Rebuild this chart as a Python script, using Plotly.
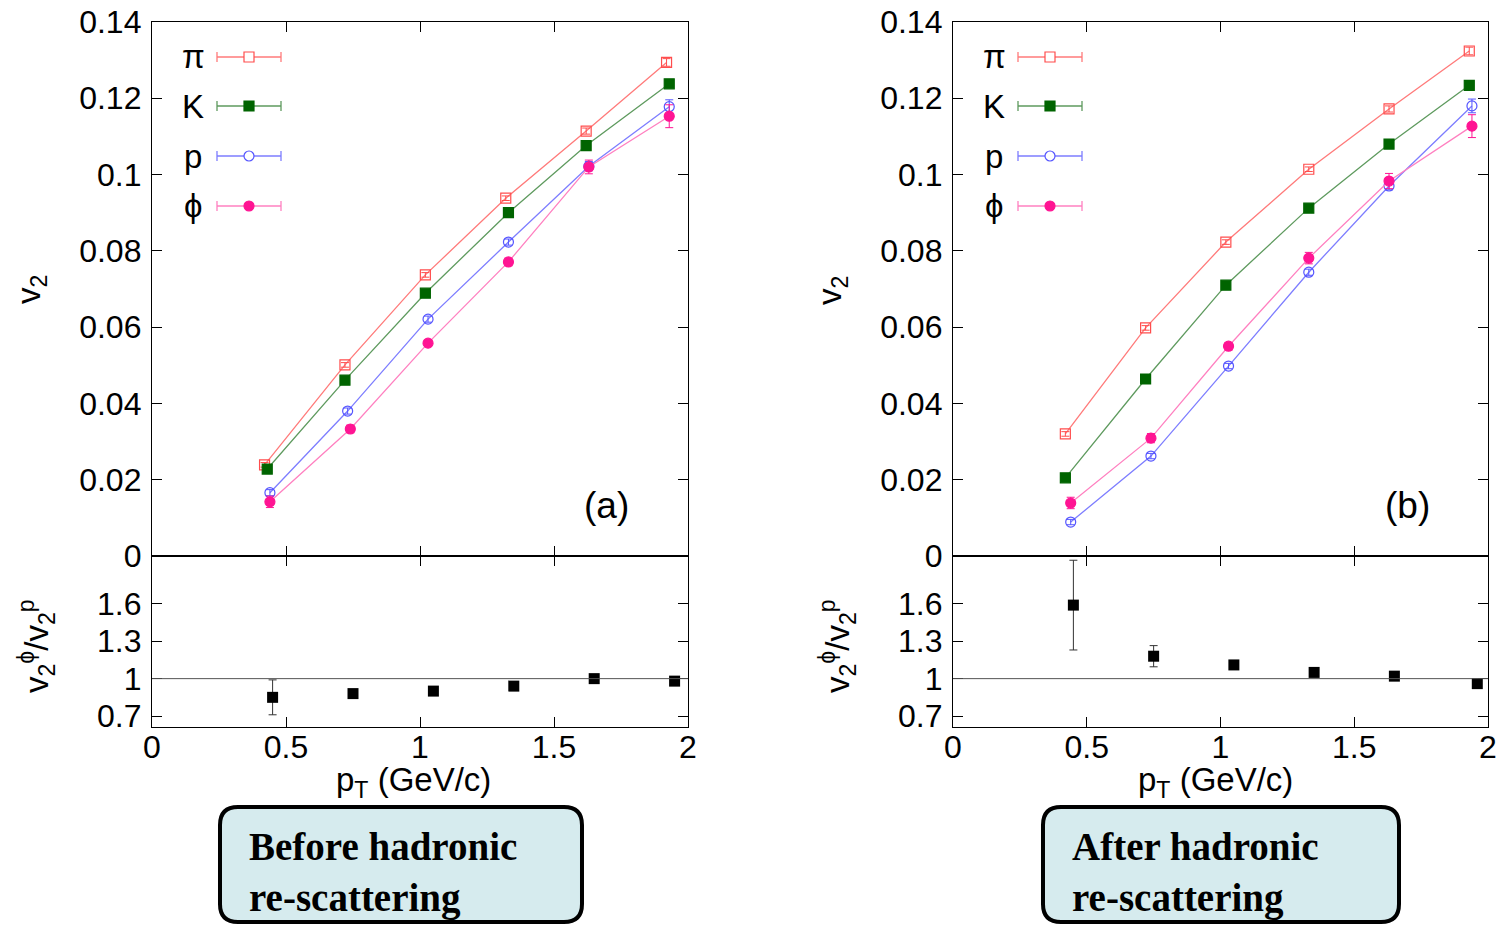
import plotly.graph_objects as go

# ---------------- data ----------------
# Panel (a): before hadronic re-scattering
pt_pi_a = [0.42, 0.72, 1.02, 1.32, 1.62, 1.92]
pt_k_a = [0.43, 0.72, 1.02, 1.33, 1.62, 1.93]
pt_p_a = [0.44, 0.73, 1.03, 1.33, 1.63, 1.93]
pt_phi_a = [0.44, 0.74, 1.03, 1.33, 1.63, 1.93]
v2_pi_a = [0.0239, 0.0501, 0.0737, 0.0938, 0.1114, 0.1294]
v2_k_a = [0.0228, 0.0461, 0.0689, 0.0900, 0.1076, 0.1238]
v2_p_a = [0.0166, 0.0380, 0.0621, 0.0823, 0.1022, 0.1178]
v2_phi_a = [0.0142, 0.0333, 0.0558, 0.0771, 0.1020, 0.1153]
err_pi_a = [0.0006, 0.0006, 0.0006, 0.0006, 0.0008, 0.0010]
err_k_a = [0.0005, 0.0005, 0.0005, 0.0005, 0.0007, 0.0010]
err_p_a = [0.0008, 0.0008, 0.0008, 0.0008, 0.0012, 0.0018]
err_phi_a = [0.0015, 0.0010, 0.0008, 0.0010, 0.0018, 0.0030]

pt_ratio_a = [0.45, 0.75, 1.05, 1.35, 1.65, 1.95]
ratio_a = [0.85, 0.88, 0.90, 0.94, 1.00, 0.98]
ratio_err_a = [0.14, 0.03, 0.01, 0.01, 0.01, 0.01]

# Panel (b): after hadronic re-scattering
pt_pi_b = [0.42, 0.72, 1.02, 1.33, 1.63, 1.93]
pt_k_b = [0.42, 0.72, 1.02, 1.33, 1.63, 1.93]
pt_p_b = [0.44, 0.74, 1.03, 1.33, 1.63, 1.94]
pt_phi_b = [0.44, 0.74, 1.03, 1.33, 1.63, 1.94]
v2_pi_b = [0.0320, 0.0598, 0.0823, 0.1014, 0.1172, 0.1324]
v2_k_b = [0.0205, 0.0464, 0.0710, 0.0912, 0.1080, 0.1234]
v2_p_b = [0.0089, 0.0262, 0.0498, 0.0744, 0.0970, 0.1180]
v2_phi_b = [0.0139, 0.0309, 0.0550, 0.0781, 0.0983, 0.1127]
err_pi_b = [0.0006, 0.0006, 0.0006, 0.0006, 0.0008, 0.0010]
err_k_b = [0.0005, 0.0005, 0.0005, 0.0005, 0.0007, 0.0010]
err_p_b = [0.0007, 0.0007, 0.0007, 0.0008, 0.0010, 0.0018]
err_phi_b = [0.0015, 0.0012, 0.0010, 0.0015, 0.0020, 0.0030]

pt_ratio_b = [0.45, 0.75, 1.05, 1.35, 1.65, 1.96]
ratio_b = [1.59, 1.18, 1.11, 1.05, 1.02, 0.96]
ratio_err_b = [0.36, 0.085, 0.02, 0.01, 0.01, 0.01]

species = ["π", "K", "p", "ϕ"]
v2_ticks = [0, 0.02, 0.04, 0.06, 0.08, 0.1, 0.12, 0.14]
v2_ticktext = ["0", "0.02", "0.04", "0.06", "0.08", "0.1", "0.12", "0.14"]
ratio_ticks = [0.7, 1.0, 1.3, 1.6]
ratio_ticktext = ["0.7", "1", "1.3", "1.6"]
pt_ticks = [0, 0.5, 1, 1.5, 2]
pt_ticktext = ["0", "0.5", "1", "1.5", "2"]
ratio_ref = 1.0
panel_labels = ["(a)", "(b)"]
box_texts = ["Before hadronic<br>re-scattering", "After hadronic<br>re-scattering"]

# ---------------- styles ----------------
W, H = 1506, 926
FONT = "Liberation Sans, Arial, sans-serif"
styles = {
    "π": dict(line="#ff7a7a", marker="#ff4d4d", symbol="square-open"),
    "K": dict(line="#5e9a5e", marker="#006400", symbol="square"),
    "p": dict(line="#7d7dff", marker="#5555ff", symbol="circle-open"),
    "ϕ": dict(line="#ff80c0", marker="#ff1493", symbol="circle"),
}

def px(x):
    return x / W

def py(y):
    return 1 - y / H

dom_a = [px(152), px(688)]
dom_b = [px(953), px(1488)]
dom_top = [py(556), py(22)]
dom_bot = [py(727), py(556)]

fig = go.Figure()

def add_species(xs, ys, es, name, xa, ya):
    st = styles[name]
    fig.add_trace(go.Scatter(
        x=xs, y=ys, mode="lines", xaxis=xa, yaxis=ya,
        line=dict(color=st["line"], width=1.3), showlegend=False, hoverinfo="skip"))
    fig.add_trace(go.Scatter(
        x=xs, y=ys, mode="markers", xaxis=xa, yaxis=ya, name=name,
        marker=dict(symbol=st["symbol"], size=10, color=st["marker"],
                    line=dict(color=st["marker"], width=1.2)),
        error_y=dict(type="data", array=es, color=st["marker"], thickness=1, width=4),
        showlegend=False))

add_species(pt_pi_a, v2_pi_a, err_pi_a, "π", "x", "y")
add_species(pt_k_a, v2_k_a, err_k_a, "K", "x", "y")
add_species(pt_p_a, v2_p_a, err_p_a, "p", "x", "y")
add_species(pt_phi_a, v2_phi_a, err_phi_a, "ϕ", "x", "y")
add_species(pt_pi_b, v2_pi_b, err_pi_b, "π", "x3", "y3")
add_species(pt_k_b, v2_k_b, err_k_b, "K", "x3", "y3")
add_species(pt_p_b, v2_p_b, err_p_b, "p", "x3", "y3")
add_species(pt_phi_b, v2_phi_b, err_phi_b, "ϕ", "x3", "y3")

for xs, ys, es, xa, ya in [(pt_ratio_a, ratio_a, ratio_err_a, "x2", "y2"),
                           (pt_ratio_b, ratio_b, ratio_err_b, "x4", "y4")]:
    fig.add_trace(go.Scatter(
        x=xs, y=ys, mode="markers", xaxis=xa, yaxis=ya,
        marker=dict(symbol="square", size=11, color="black"),
        error_y=dict(type="data", array=es, color="#333333", thickness=1, width=4),
        showlegend=False))

axis_common = dict(showline=True, linecolor="black", linewidth=1.3, mirror="ticks",
                   ticks="inside", ticklen=10, tickwidth=1.3, tickcolor="black",
                   showgrid=False, zeroline=False, automargin=False,
                   tickfont=dict(family=FONT, size=32, color="black"))

def xaxis(domain, anchor, labels):
    d = dict(axis_common)
    d.update(domain=domain, anchor=anchor, range=[0, 2], tickvals=pt_ticks,
             ticktext=pt_ticktext, showticklabels=labels, ticklabelstandoff=-9)
    return d

def yaxis(domain, anchor, rng, vals, text):
    d = dict(axis_common)
    d.update(domain=domain, anchor=anchor, range=rng, tickvals=vals, ticktext=text,
             showticklabels=True, ticklabelstandoff=3)
    return d

fig.update_layout(
    width=W, height=H, margin=dict(l=0, r=0, t=0, b=0),
    paper_bgcolor="white", plot_bgcolor="white", showlegend=False,
    xaxis=xaxis(dom_a, "y", False),
    yaxis=yaxis(dom_top, "x", [0, 0.14], v2_ticks, v2_ticktext),
    xaxis2=xaxis(dom_a, "y2", True),
    yaxis2=yaxis(dom_bot, "x2", [0.612, 1.984], ratio_ticks, ratio_ticktext),
    xaxis3=xaxis(dom_b, "y3", False),
    yaxis3=yaxis(dom_top, "x3", [0, 0.14], v2_ticks, v2_ticktext),
    xaxis4=xaxis(dom_b, "y4", True),
    yaxis4=yaxis(dom_bot, "x4", [0.612, 1.984], ratio_ticks, ratio_ticktext),
)

shapes = []
annotations = []

# reference lines at ratio = 1
for xa, ya in [("x2", "y2"), ("x4", "y4")]:
    shapes.append(dict(type="line", xref=f"{xa} domain", yref=ya, x0=0, x1=1,
                       y0=ratio_ref, y1=ratio_ref, line=dict(color="#555555", width=1)))

# manual legends (label left, error-bar symbol right)
legend_rows = [57, 106, 156, 206]
for offset, label_x in [(0, 193), (801, 994)]:
    for name, yrow in zip(species, legend_rows):
        st = styles[name]
        x0, x1, xm = 217 + offset, 281 + offset, 249 + offset
        annotations.append(dict(text=name, x=px(label_x), y=py(yrow), xref="paper", yref="paper",
                                showarrow=False, xanchor="center", yanchor="middle",
                                font=dict(family=FONT, size=33, color="black")))
        shapes.append(dict(type="line", xref="paper", yref="paper", x0=px(x0), x1=px(x1),
                           y0=py(yrow), y1=py(yrow), line=dict(color=st["line"], width=1.3)))
        for xc in (x0, x1):
            shapes.append(dict(type="line", xref="paper", yref="paper", x0=px(xc), x1=px(xc),
                               y0=py(yrow - 5), y1=py(yrow + 5), line=dict(color=st["line"], width=1.3)))
        filled = st["symbol"] in ("square", "circle")
        kind = "rect" if "square" in st["symbol"] else "circle"
        shapes.append(dict(type=kind, xref="paper", yref="paper",
                           x0=px(xm - 5), x1=px(xm + 5), y0=py(yrow + 5), y1=py(yrow - 5),
                           line=dict(color=st["marker"], width=1.2),
                           fillcolor=st["marker"] if filled else "white"))

# panel labels
for label, xpix in zip(panel_labels, [606, 1407]):
    annotations.append(dict(text=label, x=px(xpix), y=py(505), xref="paper", yref="paper",
                            showarrow=False, xanchor="center", yanchor="middle",
                            font=dict(family=FONT, size=37, color="black")))

# axis titles
for xoff in [0, 801]:
    annotations.append(dict(text="v<sub>2</sub>", x=px(31 + xoff), y=py(290), xref="paper",
                            yref="paper", showarrow=False, textangle=-90,
                            xanchor="center", yanchor="middle",
                            font=dict(family=FONT, size=33, color="black")))
    annotations.append(dict(text="v<sub>2</sub><sup>ϕ</sup>/v<sub>2</sub><sup>p</sup>",
                            x=px(36 + xoff), y=py(646), xref="paper", yref="paper",
                            showarrow=False, textangle=-90, xanchor="center", yanchor="middle",
                            font=dict(family=FONT, size=33, color="black")))
    annotations.append(dict(text="p<sub>T</sub> (GeV/c)", x=px(414 + xoff), y=py(782),
                            xref="paper", yref="paper", showarrow=False,
                            xanchor="center", yanchor="middle",
                            font=dict(family=FONT, size=33, color="black")))

# rounded text boxes
def rounded_path(x0, y0, x1, y1, r):
    def P(x, y):
        return f"{px(x):.5f},{py(y):.5f}"
    return (f"M {P(x0 + r, y0)} L {P(x1 - r, y0)} Q {P(x1, y0)} {P(x1, y0 + r)} "
            f"L {P(x1, y1 - r)} Q {P(x1, y1)} {P(x1 - r, y1)} "
            f"L {P(x0 + r, y1)} Q {P(x0, y1)} {P(x0, y1 - r)} "
            f"L {P(x0, y0 + r)} Q {P(x0, y0)} {P(x0 + r, y0)} Z")

for (bx0, bx1, tx), text in zip([(220, 582, 247), (1043, 1399, 1070)], box_texts):
    shapes.append(dict(type="path", xref="paper", yref="paper",
                       path=rounded_path(bx0, 807, bx1, 922, 18),
                       fillcolor="#d6ebee", line=dict(color="black", width=4)))
    annotations.append(dict(text=f"<b>{text}</b>", x=px(tx), y=py(872), xref="paper",
                            yref="paper", showarrow=False, xanchor="left", yanchor="middle",
                            align="left",
                            font=dict(family="Liberation Serif, Times New Roman, serif",
                                      size=39, color="black")))

fig.update_layout(shapes=shapes, annotations=annotations)
fig.write_html("out.html")
